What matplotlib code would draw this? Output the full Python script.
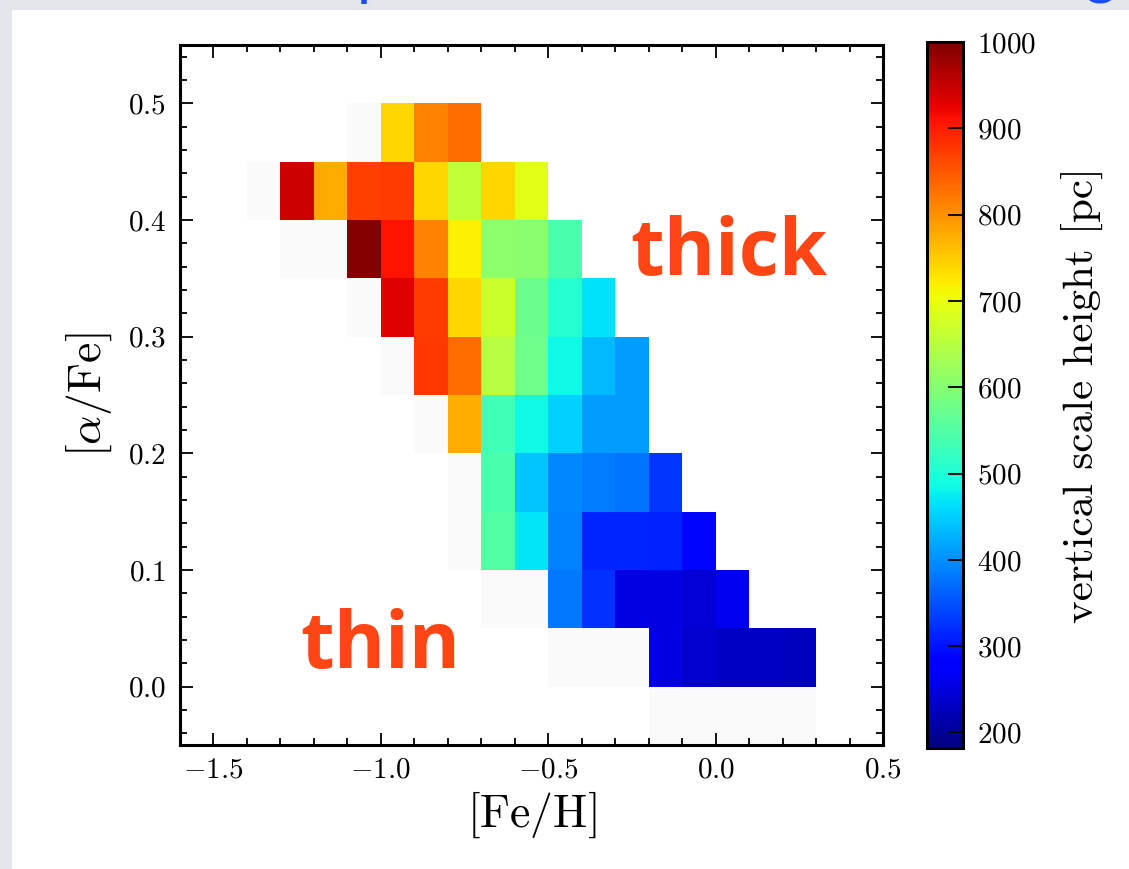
import numpy as np
import matplotlib
matplotlib.use("Agg")
import matplotlib.pyplot as plt
from matplotlib.patches import Rectangle
from matplotlib.ticker import MultipleLocator

plt.rcParams['font.family'] = 'serif'
plt.rcParams['font.serif'] = ['cmr10']
plt.rcParams['mathtext.fontset'] = 'cm'
plt.rcParams['axes.formatter.use_mathtext'] = True

# bin edges of the mono-abundance grid
feh_edges = np.round(np.arange(-1.4, 0.31, 0.1), 2)
afe_edges = np.round(np.arange(-0.05, 0.51, 0.05), 3)

N = np.nan
# scale height [pc] per bin, rows from [a/Fe]=0.45 (top) down to -0.05
# columns [Fe/H] = -1.4 ... 0.2 (left bin edge); 0 = low-count bin (drawn faint)
row_045 = [N, N, N, 0, 739, 813, 832, N, N, N, N, N, N, N, N, N, N]
row_040 = [0, 943, 779, 869, 875, 738, 660, 738, 692, N, N, N, N, N, N, N, N]
row_035 = [N, 0, 0, 995, 910, 813, 718, 607, 605, 540, N, N, N, N, N, N, N]
row_030 = [N, N, N, 0, 930, 873, 738, 670, 575, 506, 464, N, N, N, N, N, N]
row_025 = [N, N, N, N, 0, 877, 832, 651, 577, 485, 432, 409, N, N, N, N, N]
row_020 = [N, N, N, N, N, 0, 775, 531, 485, 452, 409, 411, N, N, N, N, N]
row_015 = [N, N, N, N, N, N, 0, 542, 441, 396, 384, 377, 328, N, N, N, N]
row_010 = [N, N, N, N, N, N, 0, 550, 468, 388, 316, 314, 310, 290, N, N, N]
row_005 = [N, N, N, N, N, N, N, 0, 0, 381, 324, 254, 254, 243, 262, N, N]
row_000 = [N, N, N, N, N, N, N, N, N, 0, 0, 0, 254, 239, 230, 233, 228]
row_m05 = [N, N, N, N, N, N, N, N, N, N, N, N, 0, 0, 0, 0, 0]

rows = [row_045, row_040, row_035, row_030, row_025, row_020,
        row_015, row_010, row_005, row_000, row_m05]
hz = np.array(rows[::-1], dtype=float)

cbar_ticks = [200, 300, 400, 500, 600, 700, 800, 900, 1000]

W, H = 1129, 869
fig = plt.figure(figsize=(W / 100, H / 100), dpi=100)
fig.patch.set_facecolor('#e3e6eb')
fig.add_artist(Rectangle((12 / W, 0), 1, (H - 10) / H, transform=fig.transFigure,
                         facecolor='white', edgecolor='none', zorder=-1))

# cut-off slide title (only descenders visible)
fig.text(374 / W, 1 + 7 / H, 'p', color='#1a4cff', fontsize=44, family='Lato',
         va='baseline', ha='center')
fig.text(1100 / W, 1 + 7 / H, 'g', color='#1a4cff', fontsize=44, family='Lato',
         va='baseline', ha='center')

ax = fig.add_axes([180 / W, (H - 745) / H, 703 / W, 700 / H])
cmap = plt.get_cmap('jet').copy()
cmap.set_under('#fafafa')
cmap.set_bad((1, 1, 1, 0))
mesh = ax.pcolormesh(feh_edges, afe_edges, np.ma.masked_invalid(hz),
                     cmap=cmap, vmin=182, vmax=1000)

ax.set_xlim(-1.6, 0.5)
ax.set_ylim(-0.05, 0.55)
ax.xaxis.set_major_locator(MultipleLocator(0.5))
ax.xaxis.set_minor_locator(MultipleLocator(0.1))
ax.yaxis.set_major_locator(MultipleLocator(0.1))
ax.yaxis.set_minor_locator(MultipleLocator(0.02))
ax.tick_params(which='both', direction='in', top=True, right=True, labelsize=21, width=1.3)
ax.tick_params(which='major', length=9)
ax.tick_params(which='minor', length=5)
ax.tick_params(axis='x', pad=9)
ax.tick_params(axis='y', pad=10)
for s in ax.spines.values():
    s.set_linewidth(2.2)

ax.set_xlabel(r'$[\mathrm{Fe/H}]$', fontsize=33, labelpad=4)
ax.set_ylabel(r'$[\alpha/\mathrm{Fe}]$', fontsize=33, labelpad=10)

ax.text(0.64, 0.671, 'thick', transform=ax.transAxes, family='Open Sans', weight='bold',
        fontsize=56, color='#ff4514', va='baseline', ha='left')
ax.text(0.171, 0.11, 'thin', transform=ax.transAxes, family='Open Sans', weight='bold',
        fontsize=56, color='#ff4514', va='baseline', ha='left')

cax = fig.add_axes([927 / W, (H - 748) / H, 36 / W, 706 / H])
cb = fig.colorbar(mesh, cax=cax, ticks=cbar_ticks)
cb.outline.set_linewidth(2.2)
cax.tick_params(direction='in', length=11, width=1.3, labelsize=21, pad=10)
cb.set_label('vertical scale height [pc]', fontsize=31, labelpad=18)

fig.savefig('out.png', dpi=100)
